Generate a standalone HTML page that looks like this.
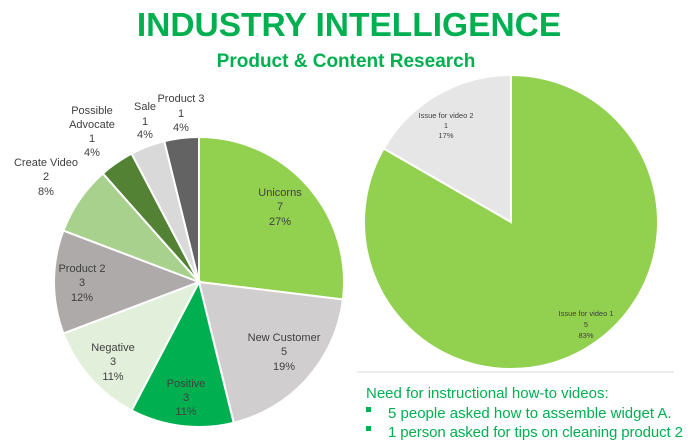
<!DOCTYPE html>
<html><head><meta charset="utf-8"><style>
body{margin:0;width:698px;height:445px;background:#fff;overflow:hidden;font-family:"Liberation Sans",sans-serif}
svg{position:absolute;left:0;top:0}
</style></head><body>
<svg width="698" height="445" viewBox="0 0 698 445">
<text x="349" y="36" text-anchor="middle" font-size="33.5" font-weight="bold" fill="#00b050">INDUSTRY INTELLIGENCE</text>
<text x="346" y="67" text-anchor="middle" font-size="19" font-weight="bold" fill="#00b050">Product &amp; Content Research</text>
<g id="left" stroke="#fff" stroke-width="2"></g>
<g id="right" stroke="#fff" stroke-width="2"></g>
<line x1="357" y1="372" x2="674" y2="372" stroke="#d9d9d9" stroke-width="1"/>
<g font-size="11" fill="#404040" text-anchor="middle">
<text x="280" y="196">Unicorns</text><text x="280" y="210">7</text><text x="280" y="225">27%</text>
<text x="284" y="341">New Customer</text><text x="284" y="355">5</text><text x="284" y="370">19%</text>
<text x="186" y="387">Positive</text><text x="186" y="401">3</text><text x="186" y="415">11%</text>
<text x="113" y="351">Negative</text><text x="113" y="365">3</text><text x="113" y="380">11%</text>
<text x="82" y="272">Product 2</text><text x="82" y="286">3</text><text x="82" y="301">12%</text>
<text x="46" y="166">Create Video</text><text x="46" y="180">2</text><text x="46" y="195">8%</text>
<text x="92" y="114">Possible</text><text x="92" y="128">Advocate</text><text x="92" y="142">1</text><text x="92" y="156">4%</text>
<text x="145" y="110">Sale</text><text x="145" y="125">1</text><text x="145" y="138">4%</text>
<text x="181" y="102">Product 3</text><text x="181" y="117">1</text><text x="181" y="131">4%</text>
</g>
<g font-size="7.5" fill="#404040" text-anchor="middle">
<text x="446" y="118">Issue for video 2</text><text x="446" y="128">1</text><text x="446" y="138">17%</text>
<text x="586" y="316">Issue for video 1</text><text x="586" y="327">5</text><text x="586" y="338">83%</text>
</g>
<g font-size="15" fill="#00b050">
<text x="366" y="398">Need for instructional how-to videos:</text>
<rect x="366" y="407" width="5" height="5"/>
<text x="388" y="418">5 people asked how to assemble widget A.</text>
<rect x="366" y="426" width="5" height="5"/>
<text x="388" y="437" textLength="295">1 person asked for tips on cleaning product 2</text>
</g>
</svg>
<script>
function pie(id,cx,cy,r,vals,cols){
 var g=document.getElementById(id),t=vals.reduce(function(a,b){return a+b},0),a=-Math.PI/2,s='';
 vals.forEach(function(v,i){var b=a+v/t*2*Math.PI;
  var x1=cx+r*Math.cos(a),y1=cy+r*Math.sin(a),x2=cx+r*Math.cos(b),y2=cy+r*Math.sin(b);
  s+='<path d="M'+cx+' '+cy+'L'+x1+' '+y1+'A'+r+' '+r+' 0 '+(b-a>Math.PI?1:0)+' 1 '+x2+' '+y2+'Z" fill="'+cols[i]+'"/>';a=b;});
 g.innerHTML=s;}
pie('left',199,282,145,[7,5,3,3,3,2,1,1,1],['#92d050','#d0cece','#00b050','#e2efda','#aeaaaa','#a9d18e','#548235','#d9d9d9','#636363']);
pie('right',511,222,147,[5,1],['#92d050','#e7e6e6']);
</script>
</body></html>
